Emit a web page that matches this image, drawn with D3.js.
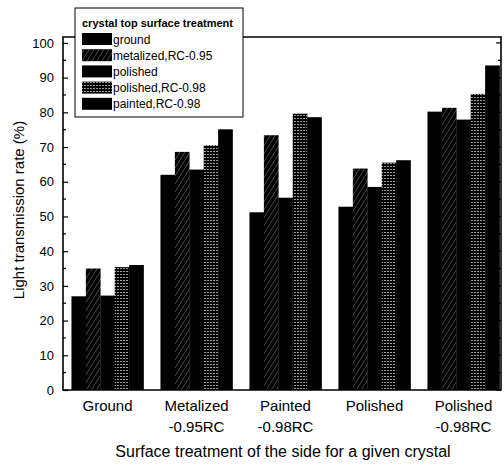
<!DOCTYPE html>
<html><head><meta charset="utf-8">
<script src="https://cdn.jsdelivr.net/npm/d3@7"></script>
<style>body{margin:0;background:#fff}svg{display:block;font-family:"Liberation Sans",Arial,sans-serif}</style>
</head><body>
<svg id="c" width="504" height="466"></svg>
<script>
const categories = [["Ground"],["Metalized","-0.95RC"],["Painted","-0.98RC"],["Polished"],["Polished","-0.98RC"]];
const seriesNames = ["ground","metalized,RC-0.95","polished","polished,RC-0.98","painted,RC-0.98"];
const ground     = [27.0, 62.0, 51.2, 52.8, 80.2];
const metalized  = [35.0, 68.6, 73.4, 63.8, 81.3];
const polished   = [27.2, 63.5, 55.4, 58.5, 77.9];
const polishedRC = [35.4, 70.5, 79.6, 65.5, 85.3];
const painted    = [36.0, 75.1, 78.6, 66.2, 93.5];
const seriesValues = [ground, metalized, polished, polishedRC, painted];
const yTicks = [0,10,20,30,40,50,60,70,80,90,100];
const fills = ["#000","url(#hatch)","#000","url(#dots)","#000"];

const svg = d3.select("#c");
const defs = svg.append("defs");
const h = defs.append("pattern").attr("id","hatch").attr("patternUnits","userSpaceOnUse").attr("width",5).attr("height",8);
h.append("rect").attr("width",5).attr("height",8).attr("fill","#000");
h.append("line").attr("x1",0).attr("y1",8).attr("x2",5).attr("y2",0).attr("stroke","#6a6a6a").attr("stroke-width",0.7);
const dp = defs.append("pattern").attr("id","dots").attr("patternUnits","userSpaceOnUse").attr("width",3).attr("height",3);
dp.append("rect").attr("width",3).attr("height",3).attr("fill","#000");
dp.append("rect").attr("x",0).attr("y",1).attr("width",2).attr("height",1).attr("fill","#9a9a9a");

const pL = 63, pR = 501, pT = 37, pB = 390;
const x0 = d3.scaleBand().domain(d3.range(categories.length)).range([pL, 508]).paddingInner(0.19).paddingOuter(0.095);
const x1 = d3.scaleBand().domain(d3.range(seriesNames.length)).range([0, x0.bandwidth()]);
const y = d3.scaleLinear().domain([0, 101.7]).range([pB, pT]);

// bars
categories.forEach((c, ci) => {
  seriesValues.forEach((vals, si) => {
    svg.append("rect")
      .attr("x", x0(ci) + x1(si))
      .attr("y", y(vals[ci]))
      .attr("width", x1.bandwidth() + 0.3)
      .attr("height", y(0) - y(vals[ci]))
      .attr("fill", fills[si]);
  });
});

// axes
const minor = d3.range(0, 101, 5);
const yAxis = d3.axisLeft(y).tickValues(yTicks).tickSize(-5).tickPadding(9).tickFormat(d3.format("d"));
const ga = svg.append("g").attr("transform", `translate(${pL},0)`).call(yAxis);
ga.select(".domain").remove();
ga.selectAll("line").attr("stroke","#000").attr("stroke-width",1.2);
ga.selectAll("text").attr("font-size",13).attr("fill","#000").attr("font-family","Liberation Sans, Arial, sans-serif");
svg.append("g").selectAll("line").data(minor.filter(v => v % 10)).join("line")
  .attr("x1", pL).attr("x2", pL + 3).attr("y1", v => y(v)).attr("y2", v => y(v)).attr("stroke","#000").attr("stroke-width",1.2);
svg.append("g").selectAll("line").data(minor).join("line")
  .attr("x1", pR).attr("x2", v => pR - (v % 10 ? 3 : 5)).attr("y1", v => y(v)).attr("y2", v => y(v)).attr("stroke","#000").attr("stroke-width",1.2);
// frame
svg.append("path").attr("d", `M${pL},${pT}V${pB}H${pR}V${pT}Z`).attr("fill","none").attr("stroke","#000").attr("stroke-width",1.6);

// category labels
categories.forEach((c, ci) => {
  const t = svg.append("text").attr("x", x0(ci) + x0.bandwidth()/2).attr("y", 411)
    .attr("text-anchor","middle").attr("font-size",15).attr("fill","#000");
  c.forEach((line, li) => t.append("tspan").attr("x", x0(ci) + x0.bandwidth()/2).attr("dy", li ? 21 : 0).text(line));
});

svg.append("text").attr("x", 283).attr("y", 457).attr("text-anchor","middle").attr("font-size",16).text("Surface treatment of the side for a given crystal");
svg.append("text").attr("transform","translate(24,210) rotate(-90)").attr("text-anchor","middle").attr("font-size",15).text("Light transmission rate (%)");

// legend
const lg = svg.append("g");
lg.append("rect").attr("x",75).attr("y",8).attr("width",168).attr("height",109).attr("fill","#fff").attr("stroke","#000").attr("stroke-width",1);
lg.append("text").attr("x",82).attr("y",27).attr("font-size",11).attr("font-weight","bold").text("crystal top surface treatment");
seriesNames.forEach((n, i) => {
  const yy = 39 + i*16.2;
  lg.append("rect").attr("x",82).attr("y",yy-6).attr("width",30).attr("height",12).attr("fill",fills[i]);
  lg.append("text").attr("x",113).attr("y",yy+4.5).attr("font-size",12).text(n);
});
</script>
</body></html>
